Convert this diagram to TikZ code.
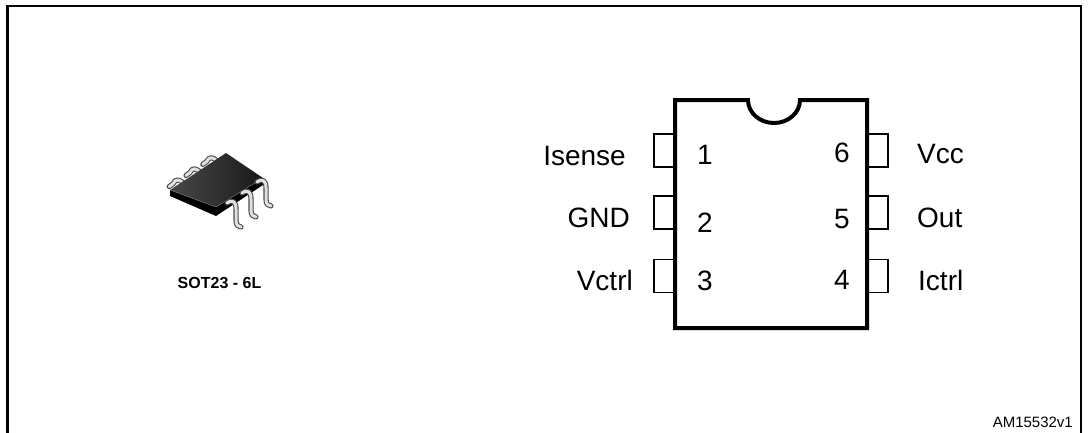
\documentclass[tikz,border=0pt]{standalone}
\usepackage{fontspec}
\setmainfont{Liberation Sans}
\begin{document}
\begin{tikzpicture}[x=1pt,y=-1pt,
  pinbox/.style={draw, line width=1.5pt, minimum width=21pt, minimum height=33pt, inner sep=0pt},
  pinlabel/.style={font=\fontsize{28}{30}\selectfont, inner sep=0pt},
  leadout/.style={line width=5.2pt, black!70, line cap=round, line join=round},
  leadin/.style={line width=3pt, black!12, line cap=round, line join=round},
]
\useasboundingbox (0,0) rectangle (1088,432);
\clip (0,0) rectangle (1088,432);

% outer frame
\draw[line width=2.2pt] (7.5,5.7) rectangle (1081,445);

% ---------- SOT23-6L package sketch ----------
% rear leads (behind the body)
\foreach \x/\y in {181.2/182.6, 198/171.5, 214.8/160.4}{
  \draw[leadout] (\x+3,\y+2) .. controls (\x-1,\y-4) and (\x-6,\y-4) .. (\x-8,\y+1) -- (\x-12,\y+4);
  \draw[leadin]  (\x+3,\y+2) .. controls (\x-1,\y-4) and (\x-6,\y-4) .. (\x-8,\y+1) -- (\x-12,\y+4);
}
% body: side faces, then top face
\fill[black] (170,190) -- (216,207) -- (263,178) -- (263,185) -- (216,216) -- (170,196) -- cycle;
\shade[left color=black!72, right color=black!90] (170,190) -- (226,153) -- (263,178) -- (216,207) -- cycle;
\draw[black!55, line width=0.4pt] (170,190) -- (216,207) -- (263,178);
% front leads
\foreach \x/\y in {227/203, 242/193, 257/182}{
  \draw[leadout] (\x,\y) .. controls (\x+6,\y-4) and (\x+9,\y-1) .. (\x+9,\y+6) -- (\x+9,\y+17) .. controls (\x+9,\y+22) and (\x+11,\y+24) .. (\x+14,\y+24);
  \draw[leadin]  (\x,\y) .. controls (\x+6,\y-4) and (\x+9,\y-1) .. (\x+9,\y+6) -- (\x+9,\y+17) .. controls (\x+9,\y+22) and (\x+11,\y+24) .. (\x+14,\y+24);
}
\node[font=\bfseries\fontsize{16}{18}\selectfont, anchor=base, inner sep=0pt] (pkg) at (219.5,288) {SOT23 - 6L};

% ---------- pin-out drawing ----------
\node[pinbox] (p1) at (664.5,150.5) {};
\node[pinbox] (p2) at (664.5,212.5) {};
\node[pinbox] (p3) at (664.5,276) {};
\node[pinbox] (p6) at (877.5,150.5) {};
\node[pinbox] (p5) at (877.5,212.5) {};
\node[pinbox] (p4) at (877.5,276) {};

% chip outline with orientation notch
\draw[line width=4pt, line join=miter, fill=white]
  (675,100) -- (748,100) arc[start angle=180, end angle=0, x radius=26, y radius=23]
  -- (867,100) -- (867,328) -- (675,328) -- cycle;

% pin numbers
\node[pinlabel, anchor=base] (n1) at (705,164) {1};
\node[pinlabel, anchor=base] (n2) at (705,232) {2};
\node[pinlabel, anchor=base] (n3) at (705,290) {3};
\node[pinlabel, anchor=base] (n6) at (842,162) {6};
\node[pinlabel, anchor=base] (n5) at (842,228) {5};
\node[pinlabel, anchor=base] (n4) at (842,289) {4};

% pin names
\node[pinlabel, anchor=base east] (l1) at (626,165) {Isense};
\node[pinlabel, anchor=base east] (l2) at (630,227) {GND};
\node[pinlabel, anchor=base east] (l3) at (633,290) {Vctrl};
\node[pinlabel, anchor=base west] (l6) at (917,163) {Vcc};
\node[pinlabel, anchor=base west] (l5) at (917,227) {Out};
\node[pinlabel, anchor=base west] (l4) at (918,290) {Ictrl};

% drawing reference
\node[font=\fontsize{15}{17}\selectfont, anchor=base east, inner sep=0pt] (code) at (1073,427) {AM15532v1};
\end{tikzpicture}
\end{document}
